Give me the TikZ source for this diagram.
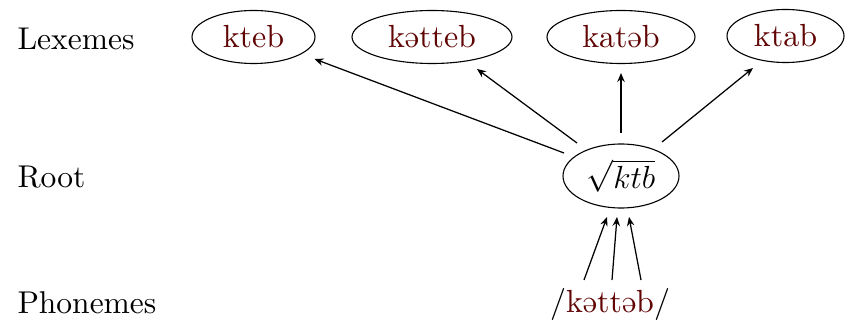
\RequirePackage{fix-cm}
\documentclass[tikz,border=0pt]{standalone}
\usepackage{fontspec}
\setmainfont{lmroman10-regular.otf}
\usetikzlibrary{shapes.geometric,arrows.meta}
\definecolor{lexred}{RGB}{96,4,4}
\tikzset{
  lex/.style={draw, ellipse, line width=1.1pt, inner sep=0pt,
    minimum height=53, text=lexred, font=\fontsize{32}{40}\selectfont},
  lvl/.style={anchor=base west, font=\fontsize{31.5}{40}\selectfont},
  arr/.style={line width=1.25pt, -{Stealth[length=9pt,width=7.5pt,inset=3pt]}}
}
\begin{document}
\begin{tikzpicture}[x=1pt,y=-1pt]
  \useasboundingbox (0,0) rectangle (845,320);

  % level labels
  \node[lvl] (llex) at (14,50) {Lexemes};
  \node[lvl] (lroot) at (14,188) {Root};
  \node[lvl] (lph) at (14,313) {Phonemes};

  % lexemes
  \node[lex, minimum width=123] (kteb) at (253.5,37) {kteb};
  \node[lex, minimum width=160] (katteb) at (432,37) {kətteb};
  \node[lex, minimum width=148] (katab) at (621,37) {katəb};
  \node[lex, minimum width=117] (ktab) at (785.5,36) {ktab};

  % root
  \node[draw, ellipse, line width=1.1pt, inner sep=0pt,
        minimum width=116, minimum height=64,
        font=\fontsize{32}{36}\selectfont] (root) at (621,176) {$\sqrt{ktb}$};

  % phonemes
  \node[anchor=base, font=\fontsize{32}{40}\selectfont, inner sep=0pt] (ph) at (610,312)
    {/\textcolor{lexred}{kəttəb}/};

  % root to lexemes
  \draw[arr] ([shift={(-57,-23)}]root.center) -- ([shift={(61,22)}]kteb.center);
  \draw[arr] ([shift={(-44,-33)}]root.center) -- ([shift={(45,32)}]katteb.center);
  \draw[arr] ([shift={(0,-43)}]root.center) -- ([shift={(0,36)}]katab.center);
  \draw[arr] ([shift={(41,-34)}]root.center) -- ([shift={(-32.5,32)}]ktab.center);

  % phonemes to root
  \draw[arr] ([shift={(-26,-32)}]ph.base) -- ([shift={(-14,41)}]root.center);
  \draw[arr] ([shift={(2,-32)}]ph.base) -- ([shift={(-4,41)}]root.center);
  \draw[arr] ([shift={(31,-32)}]ph.base) -- ([shift={(8,41)}]root.center);
\end{tikzpicture}
\end{document}
